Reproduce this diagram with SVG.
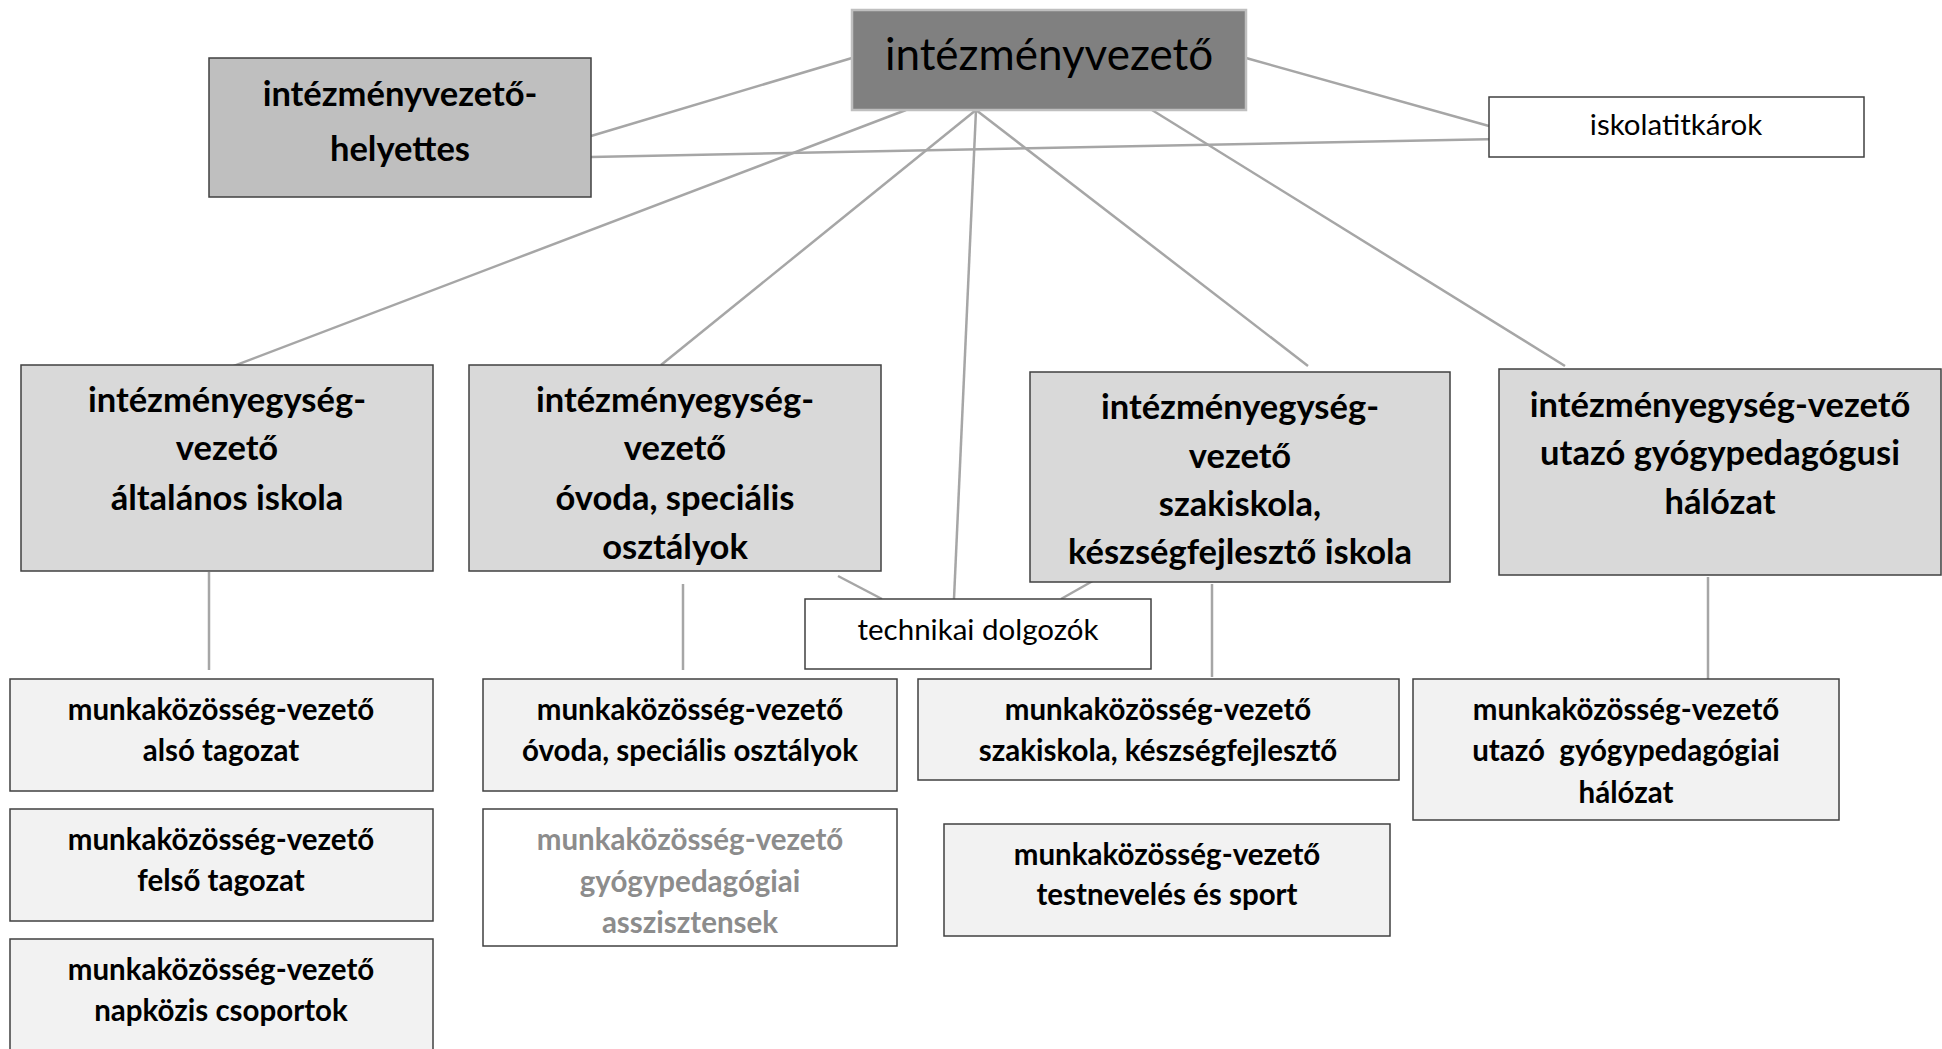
<svg xmlns="http://www.w3.org/2000/svg" width="1942" height="1049" viewBox="0 0 1942 1049">
<style>
.box{stroke:#404040;stroke-width:1.5}
.top{fill:#808080;stroke:#bfbfbf;stroke-width:2.5}
.dep{fill:#bfbfbf}
.ie{fill:#d9d9d9}
.mk{fill:#f2f2f2}
.wh{fill:#ffffff}
text{font-family:Lato,"Open Sans","Liberation Sans",sans-serif;text-anchor:middle;fill:#000}
.b{font-weight:bold}
.t35{font-size:34.5px}
.t29{font-size:29.5px}
.reg{font-size:29.5px}
.gray{fill:#8c8c8c}
.conn line{stroke:#a6a6a6;stroke-width:2.5}
</style>
<rect width="1942" height="1049" fill="#ffffff"/>
<g class="conn" id="connectors">
<line x1="852" y1="58" x2="591" y2="136"/>
<line x1="1246" y1="58" x2="1489" y2="126"/>
<line x1="591" y1="157" x2="1500" y2="139"/>
<line x1="906" y1="110" x2="210" y2="375"/>
<line x1="976" y1="110" x2="661" y2="365"/>
<line x1="976" y1="110" x2="954" y2="599"/>
<line x1="976" y1="110" x2="1308" y2="366"/>
<line x1="1152" y1="110" x2="1565" y2="366"/>
<line x1="209" y1="572" x2="209" y2="670"/>
<line x1="683" y1="584" x2="683" y2="670"/>
<line x1="838" y1="576" x2="882" y2="599"/>
<line x1="1098" y1="578" x2="1061" y2="599"/>
<line x1="1212" y1="584" x2="1212" y2="677"/>
<line x1="1708" y1="577" x2="1708" y2="682"/>
</g>
<g id="intezmenyvezeto">
<rect class="top" x="852" y="10" width="394" height="100"/>
<text x="1049" y="70" style="font-size:44px">intézményvezető</text>
</g>
<g id="helyettes">
<rect class="box dep" x="209" y="58" width="382" height="139"/>
<text class="b t35" x="400" y="106">intézményvezető-</text>
<text class="b t35" x="400" y="161">helyettes</text>
</g>
<g id="iskolatitkarok">
<rect class="box wh" x="1489" y="97" width="375" height="60"/>
<text class="reg" x="1676" y="135">iskolatitkárok</text>
</g>
<g id="ie-altalanos">
<rect class="box ie" x="21" y="365" width="412" height="206"/>
<text class="b t35" x="227" y="412">intézményegység-</text>
<text class="b t35" x="227" y="460">vezető</text>
<text class="b t35" x="227" y="510">általános iskola</text>
</g>
<g id="ie-ovoda">
<rect class="box ie" x="469" y="365" width="412" height="206"/>
<text class="b t35" x="675" y="412">intézményegység-</text>
<text class="b t35" x="675" y="460">vezető</text>
<text class="b t35" x="675" y="510">óvoda, speciális</text>
<text class="b t35" x="675" y="559">osztályok</text>
</g>
<g id="ie-szakiskola">
<rect class="box ie" x="1030" y="372" width="420" height="210"/>
<text class="b t35" x="1240" y="419">intézményegység-</text>
<text class="b t35" x="1240" y="468">vezető</text>
<text class="b t35" x="1240" y="516">szakiskola,</text>
<text class="b t35" x="1240" y="564">készségfejlesztő iskola</text>
</g>
<g id="ie-utazo">
<rect class="box ie" x="1499" y="369" width="442" height="206"/>
<text class="b t35" x="1720" y="417">intézményegység-vezető</text>
<text class="b t35" x="1720" y="465">utazó gyógypedagógusi</text>
<text class="b t35" x="1720" y="514">hálózat</text>
</g>
<g id="technikai">
<rect class="box wh" x="805" y="599" width="346" height="70"/>
<text class="reg" x="978" y="640">technikai dolgozók</text>
</g>
<g id="mk-also">
<rect class="box mk" x="10" y="679" width="423" height="112"/>
<text class="b t29" x="221" y="720">munkaközösség-vezető</text>
<text class="b t29" x="221" y="761">alsó tagozat</text>
</g>
<g id="mk-felso">
<rect class="box mk" x="10" y="809" width="423" height="112"/>
<text class="b t29" x="221" y="850">munkaközösség-vezető</text>
<text class="b t29" x="221" y="891">felső tagozat</text>
</g>
<g id="mk-napkozis">
<rect class="box mk" x="10" y="939" width="423" height="125"/>
<text class="b t29" x="221" y="980">munkaközösség-vezető</text>
<text class="b t29" x="221" y="1021">napközis csoportok</text>
</g>
<g id="mk-ovoda">
<rect class="box mk" x="483" y="679" width="414" height="112"/>
<text class="b t29" x="690" y="720">munkaközösség-vezető</text>
<text class="b t29" x="690" y="761">óvoda, speciális osztályok</text>
</g>
<g id="mk-asszisztensek">
<rect class="box wh" x="483" y="809" width="414" height="137"/>
<text class="b t29 gray" x="690" y="850">munkaközösség-vezető</text>
<text class="b t29 gray" x="690" y="892">gyógypedagógiai</text>
<text class="b t29 gray" x="690" y="933">asszisztensek</text>
</g>
<g id="mk-szakiskola">
<rect class="box mk" x="918" y="679" width="481" height="101"/>
<text class="b t29" x="1158" y="720">munkaközösség-vezető</text>
<text class="b t29" x="1158" y="761">szakiskola, készségfejlesztő</text>
</g>
<g id="mk-testneveles">
<rect class="box mk" x="944" y="824" width="446" height="112"/>
<text class="b t29" x="1167" y="865">munkaközösség-vezető</text>
<text class="b t29" x="1167" y="905">testnevelés és sport</text>
</g>
<g id="mk-utazo">
<rect class="box mk" x="1413" y="679" width="426" height="141"/>
<text class="b t29" x="1626" y="720">munkaközösség-vezető</text>
<text class="b t29" x="1626" y="761" xml:space="preserve">utazó  gyógypedagógiai</text>
<text class="b t29" x="1626" y="803">hálózat</text>
</g>
</svg>
